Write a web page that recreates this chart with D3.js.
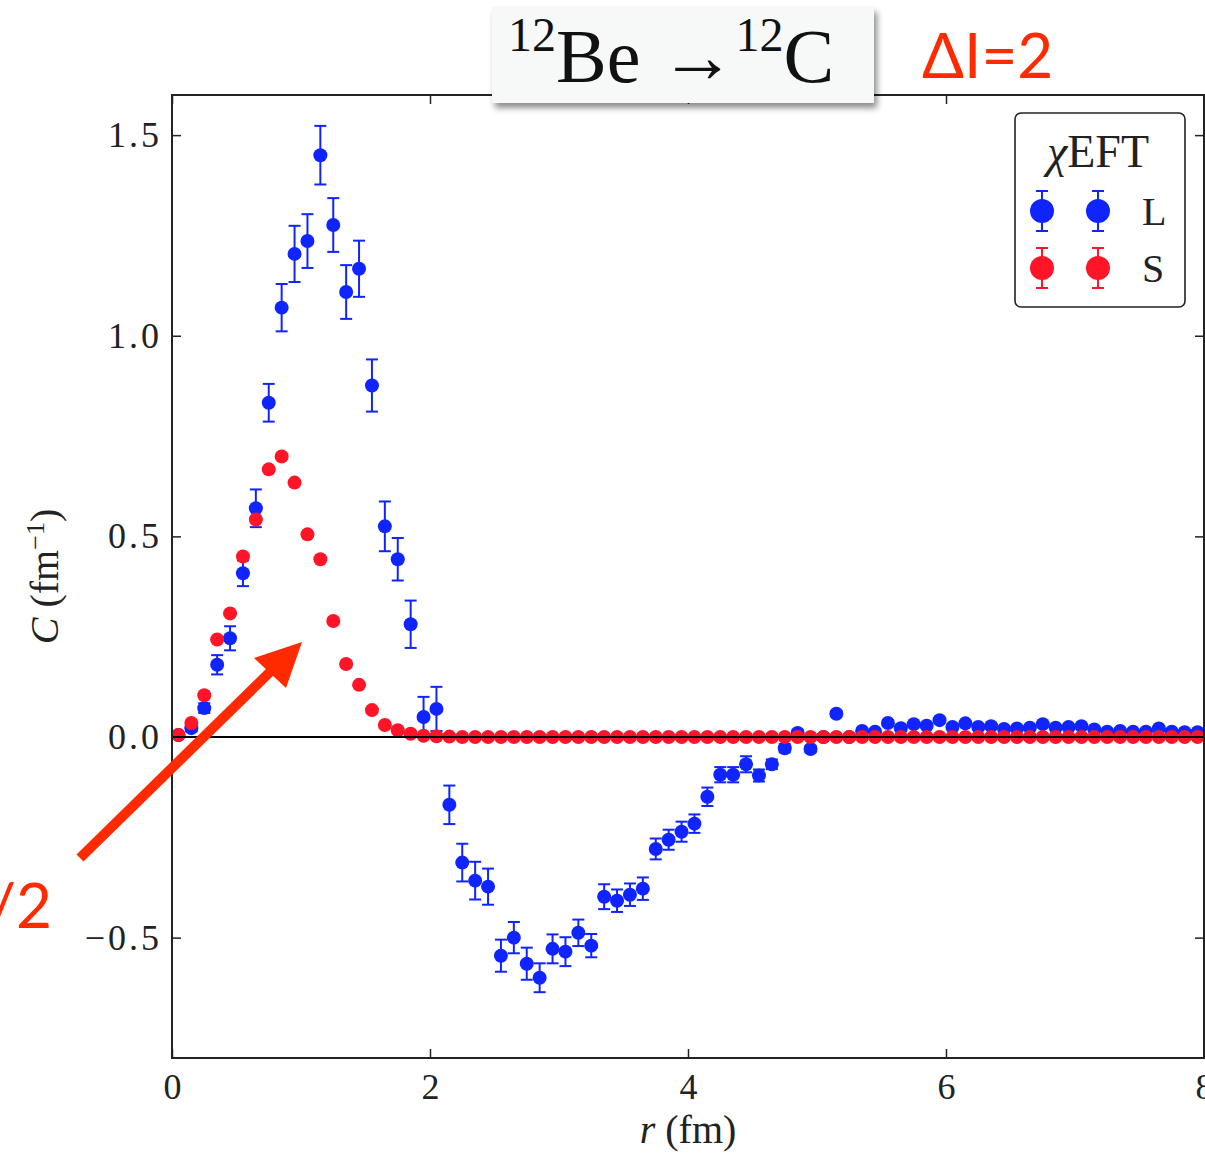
<!DOCTYPE html>
<html>
<head>
<meta charset="utf-8">
<script src="https://cdn.jsdelivr.net/npm/d3@7"></script>
<style>
  body { margin: 0; background: #fff; }
  svg { display: block; }
</style>
</head>
<body>
<svg id="chart"></svg>
<script>
// radial positions (fm)
var rValues = [0.05, 0.15, 0.25, 0.35, 0.45, 0.55, 0.65, 0.75, 0.85, 0.95,
  1.05, 1.15, 1.25, 1.35, 1.45, 1.55, 1.65, 1.75, 1.85, 1.95,
  2.05, 2.15, 2.25, 2.35, 2.45, 2.55, 2.65, 2.75, 2.85, 2.95,
  3.05, 3.15, 3.25, 3.35, 3.45, 3.55, 3.65, 3.75, 3.85, 3.95,
  4.05, 4.15, 4.25, 4.35, 4.45, 4.55, 4.65, 4.75, 4.85, 4.95,
  5.05, 5.15, 5.25, 5.35, 5.45, 5.55, 5.65, 5.75, 5.85, 5.95,
  6.05, 6.15, 6.25, 6.35, 6.45, 6.55, 6.65, 6.75, 6.85, 6.95,
  7.05, 7.15, 7.25, 7.35, 7.45, 7.55, 7.65, 7.75, 7.85, 7.95];

// L (long range) series
var longValues = [0.005, 0.022, 0.072, 0.18, 0.246, 0.408, 0.57, 0.833, 1.07, 1.204,
  1.236, 1.45, 1.276, 1.109, 1.167, 0.876, 0.525, 0.443, 0.281, 0.05,
  0.07, -0.169, -0.313, -0.358, -0.373, -0.545, -0.50, -0.565, -0.60, -0.528,
  -0.535, -0.488, -0.52, -0.398, -0.408, -0.393, -0.378, -0.279, -0.256, -0.236,
  -0.216, -0.149, -0.094, -0.094, -0.068, -0.096, -0.068, -0.028, 0.01, -0.03,
  0.0, 0.058, 0.0, 0.015, 0.013, 0.035, 0.022, 0.032, 0.028, 0.042,
  0.025, 0.034, 0.025, 0.027, 0.02, 0.021, 0.023, 0.032, 0.023, 0.025,
  0.027, 0.019, 0.013, 0.015, 0.013, 0.013, 0.021, 0.013, 0.012, 0.012];
var longErrors = [0.005, 0.008, 0.012, 0.024, 0.03, 0.032, 0.047, 0.047, 0.059, 0.07,
  0.067, 0.073, 0.067, 0.067, 0.07, 0.065, 0.062, 0.053, 0.059, 0.05,
  0.055, 0.048, 0.047, 0.047, 0.045, 0.04, 0.039, 0.04, 0.036, 0.036,
  0.036, 0.033, 0.029, 0.031, 0.028, 0.028, 0.028, 0.026, 0.025, 0.025,
  0.023, 0.023, 0.019, 0.019, 0.02, 0.015, 0.012, 0.01, 0.008, 0.008,
  0.007, 0.007, 0.006, 0.006, 0.006, 0.006, 0.005, 0.005, 0.005, 0.005,
  0.005, 0.005, 0.005, 0.005, 0.004, 0.004, 0.004, 0.004, 0.004, 0.004,
  0.004, 0.004, 0.004, 0.004, 0.004, 0.004, 0.004, 0.004, 0.004, 0.004];

// S (short range) series
var shortValues = [0.005, 0.035, 0.104, 0.243, 0.308, 0.45, 0.542, 0.667, 0.699, 0.634,
  0.505, 0.443, 0.289, 0.182, 0.13, 0.067, 0.03, 0.017, 0.008, 0.003,
  0.002, 0.001, 0, 0, 0, 0, 0, 0, 0, 0,
  0, 0, 0, 0, 0, 0, 0, 0, 0, 0,
  0, 0, 0, 0, 0, 0, 0, 0, 0, 0,
  0, 0, 0, 0, 0, 0, 0, 0, 0, 0,
  0, 0, 0, 0, 0, 0, 0, 0, 0, 0,
  0, 0, 0, 0, 0, 0, 0, 0, 0, 0];
var shortErrors = [0.002, 0.002, 0.003, 0.003, 0.003, 0.004, 0.004, 0.004, 0.004, 0.004,
  0.004, 0.003, 0.003, 0.003, 0.002, 0.002, 0.001, 0.001, 0.001, 0.001,
  0, 0, 0, 0, 0, 0, 0, 0, 0, 0,
  0, 0, 0, 0, 0, 0, 0, 0, 0, 0,
  0, 0, 0, 0, 0, 0, 0, 0, 0, 0,
  0, 0, 0, 0, 0, 0, 0, 0, 0, 0,
  0, 0, 0, 0, 0, 0, 0, 0, 0, 0,
  0, 0, 0, 0, 0, 0, 0, 0, 0, 0];

var xTicks = [0, 2, 4, 6, 8];
var yTicks = [-0.5, 0.0, 0.5, 1.0, 1.5];
var seriesNames = ['L', 'S'];

var blue = '#1024ff', red = '#ff1428';

var canvasWidth = 1205,
  canvasHeight = 1155,
  margin = { top: 95, right: 1, bottom: 97, left: 172 },
  width = canvasWidth - margin.left - margin.right,
  height = canvasHeight - margin.top - margin.bottom;

var svg = d3.select('#chart')
  .attr('width', canvasWidth)
  .attr('height', canvasHeight);

var defs = svg.append('defs');
var shadow = defs.append('filter').attr('id', 'shadow')
  .attr('x', '-10%').attr('y', '-10%').attr('width', '130%').attr('height', '140%');
shadow.append('feDropShadow')
  .attr('dx', 3).attr('dy', 5).attr('stdDeviation', 3)
  .attr('flood-color', '#000').attr('flood-opacity', 0.45);

var xScale = d3.scaleLinear().domain([0, 8]).range([0, width]);
var yScale = d3.scaleLinear().domain([-0.8, 1.6]).range([height, 0]);

var g = svg.append('g')
  .attr('transform', 'translate(' + margin.left + ',' + margin.top + ')');

var serif = '"Liberation Serif", "DejaVu Serif", serif';

function tickFmt(d) {
  return d3.format('.1f')(d).replace('-', '\u2212');
}

// axes, ticks pointing inward
var bottomAxis = g.append('g')
  .attr('transform', 'translate(0,' + height + ')')
  .call(d3.axisBottom(xScale).tickValues(xTicks).tickSizeInner(-9).tickSizeOuter(0).tickPadding(14));
var topAxis = g.append('g')
  .call(d3.axisTop(xScale).tickValues(xTicks).tickSizeInner(-9).tickSizeOuter(0).tickFormat(''));
var leftAxis = g.append('g')
  .call(d3.axisLeft(yScale).tickValues(yTicks).tickSizeInner(-9).tickSizeOuter(0).tickPadding(10).tickFormat(tickFmt));
var rightAxis = g.append('g')
  .attr('transform', 'translate(' + width + ',0)')
  .call(d3.axisRight(yScale).tickValues(yTicks).tickSizeInner(-9).tickSizeOuter(0).tickFormat(''));

[bottomAxis, topAxis, leftAxis, rightAxis].forEach(function(a) {
  a.select('.domain').remove();
  a.selectAll('.tick line').attr('stroke', '#222').attr('stroke-width', 1.5);
  a.selectAll('text')
    .style('font-family', serif)
    .style('font-size', '36px')
    .attr('fill', '#222');
});
leftAxis.selectAll('text').style('letter-spacing', '3px');
bottomAxis.selectAll('text').attr('dy', '0.75em');

// error bars + points
var cap = 6;
function drawSeries(values, errors, color) {
  var data = rValues.map(function(r, i) {
    return { r: r, v: values[i], e: errors[i] };
  });
  var grp = g.append('g');
  var eb = grp.selectAll('g.err')
    .data(data.filter(function(d) { return d.e > 0.003; }))
    .enter().append('g').attr('class', 'err')
    .attr('stroke', color).attr('stroke-width', 2);
  eb.append('line')
    .attr('x1', function(d) { return xScale(d.r); })
    .attr('x2', function(d) { return xScale(d.r); })
    .attr('y1', function(d) { return yScale(d.v - d.e); })
    .attr('y2', function(d) { return yScale(d.v + d.e); });
  eb.append('line')
    .attr('x1', function(d) { return xScale(d.r) - cap; })
    .attr('x2', function(d) { return xScale(d.r) + cap; })
    .attr('y1', function(d) { return yScale(d.v + d.e); })
    .attr('y2', function(d) { return yScale(d.v + d.e); });
  eb.append('line')
    .attr('x1', function(d) { return xScale(d.r) - cap; })
    .attr('x2', function(d) { return xScale(d.r) + cap; })
    .attr('y1', function(d) { return yScale(d.v - d.e); })
    .attr('y2', function(d) { return yScale(d.v - d.e); });
  grp.selectAll('circle')
    .data(data)
    .enter().append('circle')
    .attr('cx', function(d) { return xScale(d.r); })
    .attr('cy', function(d) { return yScale(d.v); })
    .attr('r', 7)
    .attr('fill', color);
}
drawSeries(longValues, longErrors, blue);
drawSeries(shortValues, shortErrors, red);

// zero line
g.append('line')
  .attr('x1', 0).attr('x2', width)
  .attr('y1', yScale(0)).attr('y2', yScale(0))
  .attr('stroke', '#000').attr('stroke-width', 2);

// frame
g.append('rect')
  .attr('width', width).attr('height', height)
  .attr('fill', 'none').attr('stroke', '#222').attr('stroke-width', 2);

// axis labels
svg.append('text')
  .attr('x', margin.left + xScale(4))
  .attr('y', 1143)
  .attr('text-anchor', 'middle')
  .style('font-family', serif).style('font-size', '40px').attr('fill', '#222')
  .html('<tspan font-style="italic">r</tspan> (fm)');

svg.append('text')
  .attr('transform', 'translate(58,' + (margin.top + yScale(0.4)) + ') rotate(-90)')
  .attr('text-anchor', 'middle')
  .style('font-family', serif).style('font-size', '40px').attr('fill', '#222')
  .html('<tspan font-style="italic">C</tspan> (fm<tspan baseline-shift="super" font-size="26px">\u22121</tspan>)');

// legend
var legend = svg.append('g').attr('transform', 'translate(1015,113)');
legend.append('rect')
  .attr('width', 170).attr('height', 194).attr('rx', 6)
  .attr('fill', '#fff').attr('stroke', '#222').attr('stroke-width', 1.6);
legend.append('text')
  .attr('x', 83).attr('y', 54)
  .attr('text-anchor', 'middle')
  .style('font-family', serif).style('font-size', '46px').attr('fill', '#222')
  .html('<tspan font-style="italic">\u03c7</tspan>EFT');
var legendColors = [blue, red];
seriesNames.forEach(function(name, i) {
  var row = legend.append('g').attr('transform', 'translate(0,' + (98 + i * 57) + ')');
  [27, 83].forEach(function(cx) {
    row.append('line').attr('x1', cx).attr('x2', cx).attr('y1', -20).attr('y2', 20)
      .attr('stroke', legendColors[i]).attr('stroke-width', 2);
    row.append('line').attr('x1', cx - 6).attr('x2', cx + 6).attr('y1', -20).attr('y2', -20)
      .attr('stroke', legendColors[i]).attr('stroke-width', 2);
    row.append('line').attr('x1', cx - 6).attr('x2', cx + 6).attr('y1', 20).attr('y2', 20)
      .attr('stroke', legendColors[i]).attr('stroke-width', 2);
    row.append('circle').attr('cx', cx).attr('cy', 0).attr('r', 12).attr('fill', legendColors[i]);
  });
  row.append('text')
    .attr('x', 127).attr('y', 14)
    .style('font-family', serif).style('font-size', '40px').attr('fill', '#222')
    .text(name);
});

// title box
var title = svg.append('g');
title.append('rect')
  .attr('x', 492).attr('y', 7).attr('width', 382).attr('height', 96)
  .attr('fill', '#f7f9f9').attr('filter', 'url(#shadow)');
title.append('text')
  .attr('x', 508).attr('y', 82)
  .style('font-family', serif).style('font-size', '76px').attr('fill', '#111')
  .html('<tspan font-size="48px" dy="-31">12</tspan><tspan dy="31">Be \u2192</tspan>' +
        '<tspan font-size="48px" dy="-31">12</tspan><tspan dy="31">C</tspan>');

var sans = '"Lato", "Open Sans", sans-serif';
svg.append('text')
  .attr('x', 922).attr('y', 78)
  .style('font-family', sans).style('font-size', '62px').attr('fill', '#ff2a00')
  .text('\u0394I=2');

// cut-off label and arrow
svg.append('text')
  .attr('x', 52).attr('y', 928)
  .attr('text-anchor', 'end')
  .style('font-family', sans).style('font-size', '62px').attr('fill', '#ff2a00')
  .text('/2');

svg.append('line')
  .attr('x1', 80).attr('y1', 858).attr('x2', 272).attr('y2', 670)
  .attr('stroke', '#ff2a00').attr('stroke-width', 10);
svg.append('polygon')
  .attr('points', '302,642 254,658 286,688')
  .attr('fill', '#ff2a00');
</script>
</body>
</html>
